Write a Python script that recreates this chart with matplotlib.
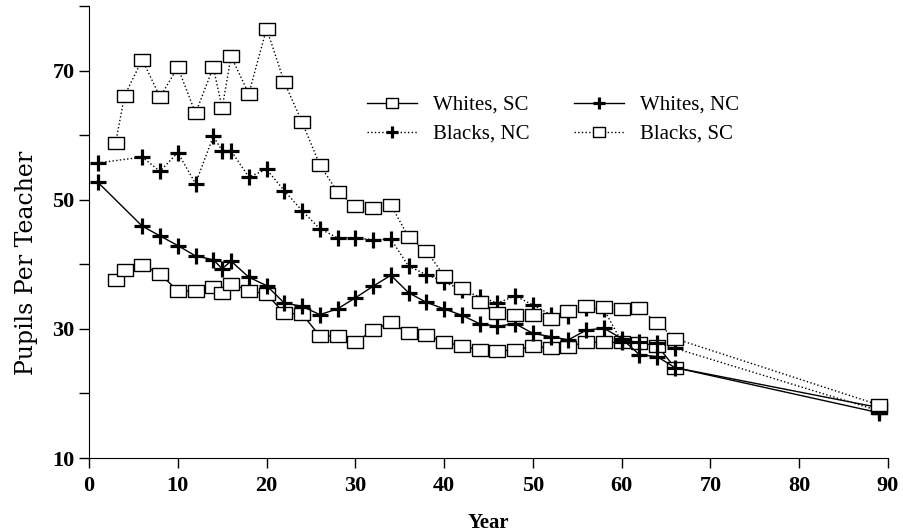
import numpy as np
import matplotlib
matplotlib.use('Agg')
from matplotlib import pyplot as plt

plt.rcParams['font.family'] = ['Liberation Serif', 'DejaVu Serif']

# years
yrs_nc = [1, 6, 8, 10, 12, 14, 15, 16, 18, 20, 22, 24, 26, 28, 30, 32, 34, 36, 38, 40,
          42, 44, 46, 48, 50, 52, 54, 56, 58, 60, 62, 64, 66, 89]
yrs_sc = [3, 4, 6, 8, 10, 12, 14, 15, 16, 18, 20, 22, 24, 26, 28, 30, 32, 34, 36, 38, 40,
          42, 44, 46, 48, 50, 52, 54, 56, 58, 60, 62, 64, 66, 89]

whites_nc = [52.7, 45.9, 44.4, 42.9, 41.3, 40.7, 39.3, 40.5, 38.0, 36.7,
             34.0, 33.5, 32.2, 33.1, 34.8, 36.6, 38.3, 35.6, 34.1, 33.1,
             32.1, 30.8, 30.4, 30.8, 29.3, 28.8, 28.3, 29.8, 30.1, 28.5,
             26.0, 25.7, 24.0, 17.0]
blacks_nc = [55.7, 56.6, 54.4, 57.3, 52.5, 59.8, 57.6, 57.6, 53.5, 54.7,
             51.4, 48.3, 45.5, 44.1, 44.1, 43.8, 43.9, 39.7, 38.4, 37.3,
             36.0, 35.0, 34.0, 35.1, 33.7, 32.2, 32.0, 33.3, 33.0, 28.0,
             28.0, 27.8, 27.0, 17.3]
whites_sc = [37.5, 39.1, 39.9, 38.5, 35.9, 35.8, 36.5, 35.6, 37.0, 35.9, 35.4,
             32.4, 32.3, 28.9, 28.9, 27.9, 29.8, 31.0, 29.3, 29.1, 27.9,
             27.4, 26.7, 26.6, 26.7, 27.3, 27.0, 27.2, 28.0, 27.9, 27.9,
             27.8, 27.4, 24.0, 17.8]
blacks_sc = [58.8, 66.1, 71.7, 65.9, 70.5, 63.4, 70.5, 64.2, 72.2, 66.4, 76.5,
             68.2, 62.0, 55.4, 51.2, 49.0, 48.7, 49.2, 44.2, 42.1, 38.2,
             36.3, 34.1, 32.4, 32.1, 32.2, 31.6, 32.7, 33.6, 33.4, 33.1,
             33.2, 30.9, 28.5, 18.2]

fig = plt.figure(figsize=(9.04, 5.31), dpi=100)
ax = fig.add_axes([89/904, 1-458/531, (888-89)/904, (458-6)/531])

# slightly wide box marker like the printed one
box = [(-1.35, -1), (1.35, -1), (1.35, 1), (-1.35, 1), (-1.35, -1)]
sq = dict(marker=box, markersize=11, mfc='white', mec='black', mew=1.0)
pl = dict(marker='+', markersize=11.5, mew=2.3, color='black')

l1, = ax.plot(yrs_sc, whites_sc, '-', color='black', lw=1.0, label='Whites, SC', **sq)
l2, = ax.plot(yrs_nc, blacks_nc, ':', lw=1.0, label='Blacks, NC', **pl)
l3, = ax.plot(yrs_nc, whites_nc, '-', lw=1.0, label='Whites, NC', **pl)
l4, = ax.plot(yrs_sc, blacks_sc, ':', color='black', lw=1.0, label='Blacks, SC', **sq)

ax.set_xlim(0, 90)
ax.set_ylim(10, 80)
ax.spines['top'].set_visible(False)
ax.spines['right'].set_visible(False)
ax.set_xticks(np.arange(0, 91, 10))
ax.set_yticks(np.arange(10, 81, 10))
ax.set_yticklabels(['10', '', '30', '', '50', '', '70', ''])
ax.tick_params(direction='out', length=7, width=1, labelsize=16)
ax.tick_params(axis='x', pad=6)
for t in ax.get_xticklabels() + ax.get_yticklabels():
    t.set_fontweight('bold')
ax.set_xlabel('Year', fontsize=15, fontweight='bold', labelpad=12)
ax.set_ylabel('Pupils Per Teacher', fontsize=17, family='DejaVu Serif')
ax.yaxis.set_label_coords(-0.064, 0.431)

leg = ax.legend(handles=[l1, l2, l3, l4], ncol=2, frameon=False, fontsize=15,
                loc='upper left', bbox_to_anchor=(0.324, 0.844), handlelength=2.4,
                columnspacing=2.1, handletextpad=0.8, labelspacing=0.45)
for h in leg.legend_handles:
    h.set_markersize(9)

plt.savefig('out.png', dpi=100)
